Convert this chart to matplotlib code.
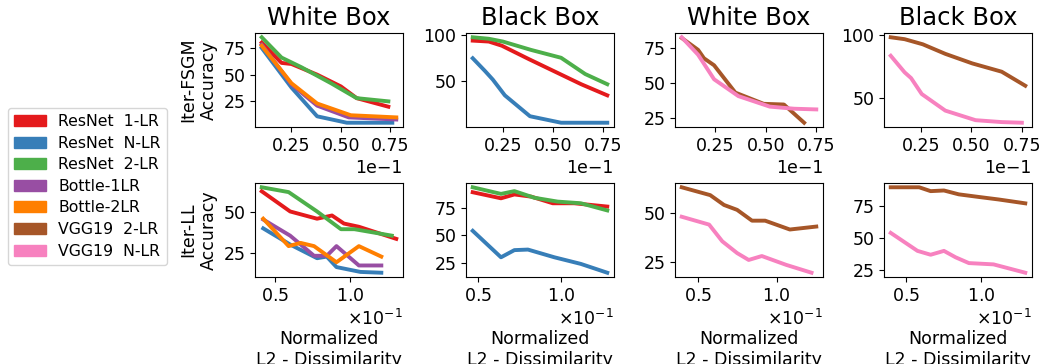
"""
Accuracy vs. normalized L2 dissimilarity for Iter-FSGM / Iter-LL attacks,
white box and black box, ResNet/Bottle models and VGG19 models.
"""

import matplotlib
matplotlib.use("Agg")
import matplotlib.pyplot as plt
from matplotlib.patches import Patch
from matplotlib.ticker import MultipleLocator, ScalarFormatter

# x values are read in units of 1e-1 (as printed on the axes)
X_SCALE = 1e-1

labels = ["ResNet  1-LR", "ResNet  N-LR", "ResNet  2-LR", "Bottle-1LR",
          "Bottle-2LR", "VGG19  2-LR", "VGG19  N-LR"]
colors = ["#e41a1c", "#377eb8", "#4daf4a", "#984ea3",
          "#ff7f00", "#a65628", "#f781bf"]
titles = ["White Box", "Black Box", "White Box", "Black Box"]
row_labels = ["Iter-FSGM\nAccuracy", "Iter-LL\nAccuracy"]

# ---- Iter-FSGM, white box, ResNet / Bottle
fsgm_wb_resnet1_x = [0.10, 0.20, 0.25, 0.38, 0.50, 0.58, 0.74]
fsgm_wb_resnet1_y = [80, 61, 60, 50, 39, 28, 20]
fsgm_wb_resnetn_x = [0.10, 0.25, 0.38, 0.53, 0.76]
fsgm_wb_resnetn_y = [75, 38, 11, 5, 5]
fsgm_wb_resnet2_x = [0.10, 0.20, 0.30, 0.45, 0.58, 0.74]
fsgm_wb_resnet2_y = [85, 66, 57, 42, 28, 25]
fsgm_wb_bottle1_x = [0.10, 0.25, 0.38, 0.54, 0.78]
fsgm_wb_bottle1_y = [78, 41, 21, 10, 8]
fsgm_wb_bottle2_x = [0.10, 0.25, 0.38, 0.55, 0.78]
fsgm_wb_bottle2_y = [77, 42, 23, 12, 10]

# ---- Iter-FSGM, black box, ResNet
fsgm_bb_resnet1_x = [0.10, 0.18, 0.245, 0.38, 0.51, 0.64, 0.77]
fsgm_bb_resnet1_y = [94, 93, 88.5, 74, 60.5, 47, 35]
fsgm_bb_resnetn_x = [0.10, 0.16, 0.20, 0.26, 0.385, 0.54, 0.77]
fsgm_bb_resnetn_y = [75, 61.5, 52, 35, 12.5, 5.5, 5.5]
fsgm_bb_resnet2_x = [0.10, 0.18, 0.25, 0.39, 0.54, 0.66, 0.77]
fsgm_bb_resnet2_y = [97.6, 96, 93, 84, 75.5, 58, 47]

# ---- Iter-FSGM, white box, VGG19
fsgm_wb_vgg2_x = [0.085, 0.166, 0.195, 0.245, 0.35, 0.49, 0.59, 0.69]
fsgm_wb_vgg2_y = [82, 73.5, 67.5, 62.5, 43, 35, 34.5, 21.5]
fsgm_wb_vggn_x = [0.085, 0.166, 0.245, 0.365, 0.52, 0.64, 0.75]
fsgm_wb_vggn_y = [82.5, 70, 52.5, 40.5, 33, 31.5, 31]

# ---- Iter-FSGM, black box, VGG19
fsgm_bb_vgg2_x = [0.099, 0.168, 0.258, 0.37, 0.504, 0.65, 0.767]
fsgm_bb_vgg2_y = [98, 96.5, 92.5, 85, 77.5, 71, 60]
fsgm_bb_vggn_x = [0.099, 0.168, 0.20, 0.253, 0.37, 0.52, 0.65, 0.75]
fsgm_bb_vggn_y = [83.5, 70.5, 66, 53.5, 40.5, 33, 31.5, 31]

# ---- Iter-LL, white box, ResNet / Bottle
ll_wb_resnet1_x = [0.41, 0.60, 0.78, 0.88, 0.96, 1.06, 1.31]
ll_wb_resnet1_y = [63, 50.5, 46, 48, 43, 41, 33.5]
ll_wb_resnetn_x = [0.42, 0.60, 0.78, 0.845, 0.91, 1.07, 1.21]
ll_wb_resnetn_y = [40, 30, 21.5, 22.5, 16, 13, 12.5]
ll_wb_resnet2_x = [0.41, 0.59, 0.78, 0.94, 1.03, 1.28]
ll_wb_resnet2_y = [65.5, 62.5, 50.5, 39.5, 39.5, 35.5]
ll_wb_bottle1_x = [0.42, 0.60, 0.76, 0.845, 0.91, 1.06, 1.21]
ll_wb_bottle1_y = [45.5, 35.5, 23, 23, 29, 17, 17]
ll_wb_bottle2_x = [0.42, 0.59, 0.67, 0.76, 0.91, 1.06, 1.21]
ll_wb_bottle2_y = [46, 29, 31, 29, 19, 29, 22.5]

# ---- Iter-LL, black box, ResNet
ll_bb_resnet1_x = [0.466, 0.637, 0.718, 0.82, 0.95, 1.08, 1.28]
ll_bb_resnet1_y = [89, 83.5, 87, 85, 79, 79, 76]
ll_bb_resnetn_x = [0.466, 0.637, 0.718, 0.80, 0.96, 1.12, 1.28]
ll_bb_resnetn_y = [54, 30, 36.5, 37, 30, 24, 16]
ll_bb_resnet2_x = [0.466, 0.637, 0.718, 0.839, 0.98, 1.12, 1.28]
ll_bb_resnet2_y = [93.5, 87.5, 90, 84, 80.5, 79, 72.5]

# ---- Iter-LL, white box, VGG19
ll_wb_vgg2_x = [0.40, 0.58, 0.667, 0.75, 0.844, 0.927, 1.083, 1.25]
ll_wb_vgg2_y = [63, 59, 54, 51.5, 46, 46, 41.5, 43]
ll_wb_vggn_x = [0.40, 0.573, 0.656, 0.75, 0.823, 0.906, 1.06, 1.22]
ll_wb_vggn_y = [48, 44, 35.5, 29.5, 26, 28, 23.5, 19.5]

# ---- Iter-LL, black box, VGG19
ll_bb_vgg2_x = [0.40, 0.588, 0.664, 0.752, 0.85, 0.98, 1.114, 1.29]
ll_bb_vgg2_y = [89.5, 89.5, 86.5, 87, 84, 82, 80, 77]
ll_bb_vggn_x = [0.40, 0.577, 0.664, 0.752, 0.829, 0.917, 1.08, 1.29]
ll_bb_vggn_y = [54, 40, 37, 40, 35, 30.5, 29.5, 23]

# (series index, x, y) for each panel, row by row
panels = [
    [(0, fsgm_wb_resnet1_x, fsgm_wb_resnet1_y), (1, fsgm_wb_resnetn_x, fsgm_wb_resnetn_y),
     (2, fsgm_wb_resnet2_x, fsgm_wb_resnet2_y), (3, fsgm_wb_bottle1_x, fsgm_wb_bottle1_y),
     (4, fsgm_wb_bottle2_x, fsgm_wb_bottle2_y)],
    [(0, fsgm_bb_resnet1_x, fsgm_bb_resnet1_y), (1, fsgm_bb_resnetn_x, fsgm_bb_resnetn_y),
     (2, fsgm_bb_resnet2_x, fsgm_bb_resnet2_y)],
    [(5, fsgm_wb_vgg2_x, fsgm_wb_vgg2_y), (6, fsgm_wb_vggn_x, fsgm_wb_vggn_y)],
    [(5, fsgm_bb_vgg2_x, fsgm_bb_vgg2_y), (6, fsgm_bb_vggn_x, fsgm_bb_vggn_y)],
    [(0, ll_wb_resnet1_x, ll_wb_resnet1_y), (1, ll_wb_resnetn_x, ll_wb_resnetn_y),
     (2, ll_wb_resnet2_x, ll_wb_resnet2_y), (3, ll_wb_bottle1_x, ll_wb_bottle1_y),
     (4, ll_wb_bottle2_x, ll_wb_bottle2_y)],
    [(0, ll_bb_resnet1_x, ll_bb_resnet1_y), (1, ll_bb_resnetn_x, ll_bb_resnetn_y),
     (2, ll_bb_resnet2_x, ll_bb_resnet2_y)],
    [(5, ll_wb_vgg2_x, ll_wb_vgg2_y), (6, ll_wb_vggn_x, ll_wb_vggn_y)],
    [(5, ll_bb_vgg2_x, ll_bb_vgg2_y), (6, ll_bb_vggn_x, ll_bb_vggn_y)],
]
y_steps = [25, 50, 25, 50, 25, 25, 25, 25]

plt.rcParams['font.family'] = ['DejaVu Sans']
plt.rcParams['xtick.labelsize'] = 12.5
plt.rcParams['ytick.labelsize'] = 12.5

W, H = 1042, 364
fig = plt.figure(figsize=(W / 100, H / 100), dpi=100)

col_left = [255, 466, 675, 884]
row_top = [33, 183]
ax_w, ax_h = 148, 94

for k, series in enumerate(panels):
    r, c = divmod(k, 4)
    ax = fig.add_axes([col_left[c] / W, 1 - (row_top[r] + ax_h) / H, ax_w / W, ax_h / H])
    for idx, xs, ys in series:
        ax.plot([v * X_SCALE for v in xs], ys, color=colors[idx], lw=2.8)

    fmt = ScalarFormatter(useMathText=(r == 1))
    fmt.set_powerlimits((-1, -1))
    ax.xaxis.set_major_formatter(fmt)
    ax.xaxis.set_major_locator(MultipleLocator(0.025 if r == 0 else 0.05))
    ax.yaxis.set_major_locator(MultipleLocator(y_steps[k]))

    if r == 0:
        ax.set_title(titles[c], fontsize=17.5)
    else:
        ax.set_xlabel("Normalized\nL2 - Dissimilarity", fontsize=12.5, labelpad=18)
    if c == 0:
        ax.set_ylabel(row_labels[r], fontsize=12.5)

handles = [Patch(facecolor=col, edgecolor=col) for col in colors]
fig.legend(handles, labels, loc="center left", bbox_to_anchor=(0.0, 0.488),
           fontsize=11.3, labelspacing=0.42, handlelength=2.0)

fig.savefig("out.png", dpi=100)
